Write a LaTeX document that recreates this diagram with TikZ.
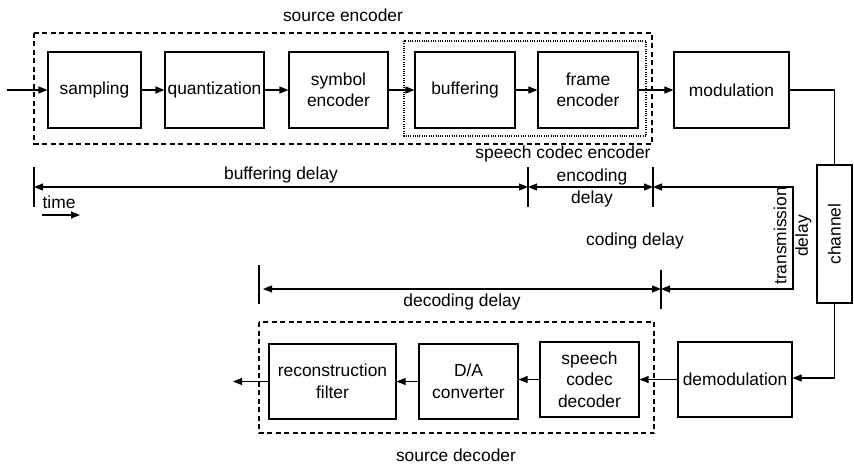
\documentclass[tikz,border=0pt]{standalone}
\usepackage{fontspec}
\setmainfont{Liberation Sans}
\usetikzlibrary{arrows.meta}
\begin{document}
\begin{tikzpicture}[x=1pt,y=-1pt,
  font=\fontsize{17.4}{21.5}\selectfont,
  every path/.style={line width=1.1pt},
  blk/.style={draw,line width=1.1pt,inner sep=0pt,align=center},
  arr/.style={-{Triangle[length=9pt,width=7pt]}},
  darr/.style={{Triangle[length=9pt,width=7pt]}-{Triangle[length=9pt,width=7pt]}},
  dashbox/.style={draw,line width=1.1pt,dash pattern=on 5pt off 3.5pt},
  dotbox/.style={draw,line width=1.1pt,dash pattern=on 1pt off 1.3pt},
  lbl/.style={inner sep=0pt,align=center}]
\useasboundingbox (0,0) rectangle (854,465);

% group boxes
\draw[dashbox] (34,33) rectangle (652,144);
\draw[dotbox] (404,41) rectangle (646,136);
\draw[dashbox] (259,322) rectangle (654,433);

% blocks
\node[blk,minimum width=93pt,minimum height=76pt] (samp) at (94.5,90) {sampling};
\node[blk,minimum width=99pt,minimum height=76pt] (quant) at (214.5,90) {quantization};
\node[blk,minimum width=99pt,minimum height=76pt] (syme) at (338.5,90) {symbol\\encoder};
\node[blk,minimum width=100pt,minimum height=76pt] (buf) at (465,90) {buffering};
\node[blk,minimum width=100pt,minimum height=76pt] (fenc) at (588,90) {frame\\encoder};
\node[blk,minimum width=115pt,minimum height=76pt] (mod) at (731.5,90) {modulation};
\node[blk,minimum width=35pt,minimum height=138pt] (chan) at (834.5,234) {\rotatebox{90}{channel}};
\node[blk,minimum width=114pt,minimum height=75pt] (demod) at (735,379.5) {demodulation};
\node[blk,minimum width=99pt,minimum height=75pt] (scd) at (589.5,379.5) {speech\\codec\\decoder};
\node[blk,minimum width=99pt,minimum height=75pt] (da) at (468.5,381.5) {D/A\\converter};
\node[blk,minimum width=127pt,minimum height=75pt] (rec) at (332.5,381.5) {reconstruction\\filter};

% labels
\node[lbl] (lse) at (343,15) {source encoder};
\node[lbl] (lsce) at (563,154) {speech codec encoder};
\node[lbl] (lsd) at (456,455) {source decoder};
\node[lbl] (lbd) at (281,175) {buffering delay};
\node[lbl] (led) at (592,188) {encoding\\[1pt]delay};
\node[lbl] (ltime) at (59,202) {time};
\node[lbl] (lcd) at (635,241) {coding delay};
\node[lbl,rotate=90] (ltd) at (792.5,236) {transmission\\delay};
\node[lbl] (ldd) at (462,302) {decoding delay};

% signal path
\coordinate (in) at (7,90);
\coordinate (out) at (233,381.5);
\coordinate (mc) at (834.5,90);
\coordinate (cd) at (834.5,378);
\draw[arr] (in) -- (samp);
\draw[arr] (samp) -- (quant);
\draw[arr] (quant) -- (syme);
\draw[arr] (syme) -- (buf);
\draw[arr] (buf) -- (fenc);
\draw[arr] (fenc) -- (mod);
\draw (mod.east) -- (mc) -- (chan.north);
\draw[arr] (chan.south) -- (cd) -- (demod.east |- cd);
\draw[arr] (demod.west) -- (demod.west -| scd.east);
\draw[arr] (scd.west) -- (scd.west -| da.east);
\draw[arr] (da.west) -- (rec.east);
\draw[arr] (rec.west) -- (out);

% time arrow
\coordinate (ta) at (42,215);
\coordinate (tb) at (80,215);
\draw[arr] (ta) -- (tb);

% delay ticks
\coordinate (k1a) at (34,167); \coordinate (k1b) at (34,207);
\coordinate (k2a) at (528,167); \coordinate (k2b) at (528,207);
\coordinate (k3a) at (653,167); \coordinate (k3b) at (653,207);
\coordinate (k4a) at (259,265); \coordinate (k4b) at (259,304);
\coordinate (k5a) at (661,270); \coordinate (k5b) at (661,309);
\draw (k1a) -- (k1b);
\draw (k2a) -- (k2b);
\draw (k3a) -- (k3b);
\draw (k4a) -- (k4b);
\draw (k5a) -- (k5b);

% delay lines
\coordinate (d1) at (34,187);
\coordinate (d2) at (528,187);
\coordinate (d3) at (653,187);
\coordinate (tr) at (793,187);
\coordinate (br) at (793,289);
\coordinate (d4) at (661,289);
\coordinate (d5) at (263,289);
\draw[darr] (d1) -- (d2);
\draw[darr] (d2) -- (d3);
\draw[darr] (d3) -- (tr) -- (br) -- (d4);
\draw[darr] (d5) -- (d4);
\end{tikzpicture}
\end{document}
